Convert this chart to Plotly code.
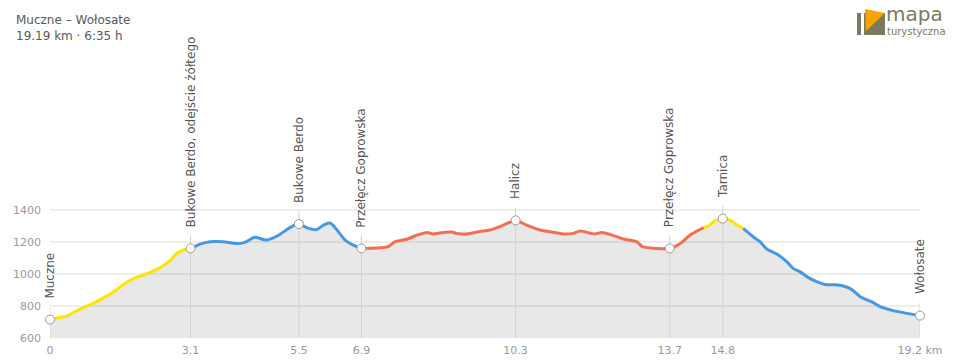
import numpy as np
import plotly.graph_objects as go

# ---------------- data ----------------
KM = [0.00, 0.18, 0.37, 0.66, 0.95, 1.25, 1.43, 1.62, 1.87, 2.21, 2.43, 2.65, 2.76, 2.94,
      3.10, 3.31, 3.53, 3.82, 4.12, 4.30, 4.52, 4.78, 5.04, 5.29, 5.49, 5.66, 5.88, 6.03,
      6.18, 6.32, 6.51, 6.69, 6.87, 7.20, 7.46, 7.61, 7.87, 8.09, 8.31, 8.45, 8.67, 8.86,
      8.97, 9.19, 9.48, 9.70, 9.92, 10.27, 10.51, 10.81, 11.07, 11.32, 11.54, 11.69, 12.02,
      12.17, 12.35, 12.65, 12.94, 13.07, 13.38, 13.67, 13.93, 14.12, 14.37, 14.42, 14.52,
      14.67, 14.84, 15.00, 15.15, 15.29, 15.51, 15.66, 15.81, 16.03, 16.25, 16.39, 16.54,
      16.72, 16.91, 17.09, 17.31, 17.50, 17.68, 17.87, 18.12, 18.31, 18.60, 18.90, 19.19]
ELEV = [715, 727, 737, 781, 817, 862, 894, 935, 975, 1010, 1040, 1083, 1119, 1150,
        1160, 1187, 1202, 1202, 1190, 1198, 1229, 1212, 1242, 1290, 1312, 1290, 1277, 1306,
        1319, 1279, 1212, 1181, 1160, 1162, 1171, 1202, 1217, 1242, 1260, 1250, 1260, 1262,
        1254, 1250, 1265, 1275, 1296, 1335, 1306, 1275, 1262, 1250, 1254, 1268, 1250,
        1260, 1248, 1219, 1202, 1171, 1160, 1160, 1196, 1244, 1283, 1290, 1300,
        1333, 1346, 1337, 1306, 1285, 1233, 1202, 1156, 1125, 1077, 1035, 1015,
        979, 952, 935, 933, 925, 904, 858, 827, 796, 771, 754, 740]

SEG_BREAKS = [0.00, 3.10, 6.87, 14.42, 15.29, 19.19]
SEG_COLORS = ["#ffe400", "#4698e4", "#f36f4f", "#ffe400", "#4698e4"]

WP_NAMES = ["Muczne", "Bukowe Berdo, odejście żółtego", "Bukowe Berdo", "Przełęcz Goprowska",
            "Halicz", "Przełęcz Goprowska", "Tarnica", "Wołosate"]
WP_KM = [0.00, 3.10, 5.49, 6.87, 10.27, 13.67, 14.84, 19.19]
TICK_LABELS = ["0", "3.1", "5.5", "6.9", "10.3", "13.7", "14.8", "19.2 km"]
Y_TICKS = [600, 800, 1000, 1200, 1400]

TITLE = "Muczne – Wołosate<br>19.19 km · 6:35 h"

# ---------------- layout geometry ----------------
W, H = 960, 362
ML, MR, MT, MB = 50, 40, 40, 24
PW, PH = W - ML - MR, H - MT - MB
PX_PER_M = 0.16
YMIN = 600
YMAX = YMIN + PH / PX_PER_M


def px(x):
    return (x - ML) / PW


def py(y):
    return (H - MB - y) / PH


km = np.array(KM)
el = np.array(ELEV, dtype=float)
wp_el = np.interp(WP_KM, km, el)

fig = go.Figure()

# filled area
fig.add_trace(go.Scatter(x=KM, y=ELEV, mode="lines", line=dict(width=0),
                         fill="tozeroy", fillcolor="rgba(0,0,0,0.09)",
                         hoverinfo="skip", showlegend=False))

# waypoint vertical lines
vx, vy = [], []
for k, e in zip(WP_KM, wp_el):
    vx += [k, k, None]
    vy += [YMIN, e + 13 / PX_PER_M, None]
fig.add_trace(go.Scatter(x=vx, y=vy, mode="lines", line=dict(color="#d2d2d2", width=1),
                         hoverinfo="skip", showlegend=False, cliponaxis=False))

# coloured trail segments
for i, c in enumerate(SEG_COLORS):
    a, b = SEG_BREAKS[i], SEG_BREAKS[i + 1]
    m = (km >= a - 1e-9) & (km <= b + 1e-9)
    fig.add_trace(go.Scatter(x=km[m], y=el[m], mode="lines",
                             line=dict(color=c, width=3, shape="spline", smoothing=0.6),
                             hoverinfo="skip", showlegend=False, cliponaxis=False))

# waypoint markers
fig.add_trace(go.Scatter(x=WP_KM, y=wp_el, mode="markers",
                         marker=dict(size=9, color="white", line=dict(color="#9a9a9a", width=1)),
                         hoverinfo="skip", showlegend=False, cliponaxis=False))

annotations = []
for name, k, e in zip(WP_NAMES, WP_KM, wp_el):
    annotations.append(dict(x=k, y=e + 20 / PX_PER_M, xref="x", yref="y", text=name,
                            textangle=-90, xanchor="center", yanchor="bottom",
                            showarrow=False, borderpad=0,
                            font=dict(family="DejaVu Sans", size=12, color="#555555")))

# title
annotations.append(dict(x=px(14), y=py(11), xref="paper", yref="paper", text=TITLE,
                        xanchor="left", yanchor="top", align="left", showarrow=False,
                        font=dict(family="DejaVu Sans", size=12, color="#5a5a5a")))

# logo text
annotations.append(dict(x=px(885), y=py(27), xref="paper", yref="paper", text="mapa",
                        xanchor="left", yanchor="bottom", showarrow=False, borderpad=0,
                        font=dict(family="DejaVu Sans", size=20, color="#7a7a5e")))
annotations.append(dict(x=px(886), y=py(38), xref="paper", yref="paper", text="turystyczna",
                        xanchor="left", yanchor="bottom", showarrow=False, borderpad=0,
                        font=dict(family="DejaVu Sans", size=10, color="#7a7a5e")))

shapes = [
    dict(type="rect", xref="paper", yref="paper", x0=px(857), x1=px(861), y0=py(35), y1=py(13),
         fillcolor="#7a7a5e", line=dict(width=0)),
    dict(type="rect", xref="paper", yref="paper", x0=px(864), x1=px(885), y0=py(35), y1=py(13),
         fillcolor="#7a7a5e", line=dict(width=0)),
    dict(type="path", xref="paper", yref="paper",
         path=f"M {px(865)} {py(9)} L {px(885)} {py(13)} L {px(866)} {py(31)} Z",
         fillcolor="#f7a400", line=dict(width=0)),
]

fig.update_layout(
    width=W, height=H,
    margin=dict(l=ML, r=MR, t=MT, b=MB, autoexpand=False),
    paper_bgcolor="white", plot_bgcolor="white",
    font=dict(family="DejaVu Sans", size=11, color="#999999"),
    showlegend=False, hovermode=False,
    annotations=annotations, shapes=shapes,
    xaxis=dict(range=[0, 19.19], tickvals=WP_KM, ticktext=TICK_LABELS, showgrid=False,
               zeroline=False, showline=False, ticks="", ticklabelstandoff=4,
               automargin=False,
               tickfont=dict(size=11, color="#999999"), fixedrange=True),
    yaxis=dict(range=[YMIN, YMAX], tickvals=Y_TICKS, showgrid=True, gridcolor="#eeeeee",
               gridwidth=2, zeroline=False, showline=False, ticks="", automargin=False,
               ticklabelstandoff=8, tickfont=dict(size=11, color="#999999"), fixedrange=True),
)

fig.write_html("out.html", config={"displayModeBar": False},
               post_script="document.body.style.margin='0';document.body.style.overflow='hidden';")
